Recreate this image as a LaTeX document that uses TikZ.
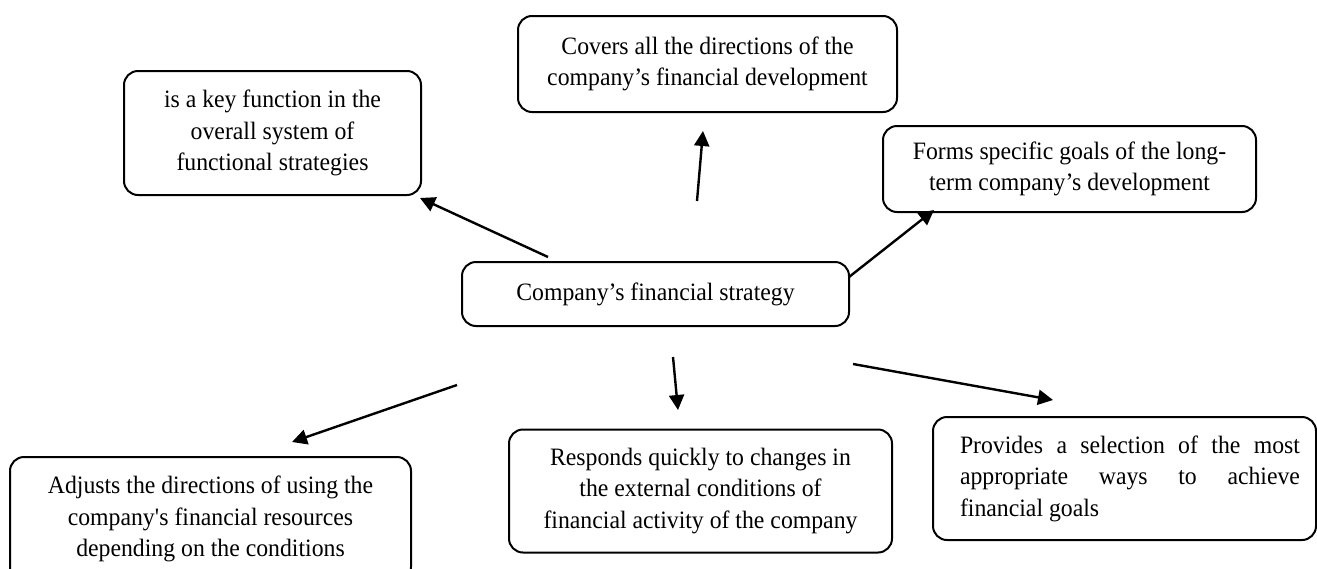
\documentclass[tikz,border=0pt]{standalone}
\usepackage{fontspec}
\setmainfont[FakeStretch=0.95]{Liberation Serif}
\usetikzlibrary{arrows.meta}

\begin{document}
\begin{tikzpicture}[x=0.5pt, y=-0.5pt,
            box/.style={draw, line width=1pt, rounded corners=7pt, align=center, inner sep=0pt,
                font=\fontsize{12.5}{15.75}\selectfont},
            arr/.style={line width=1.2pt, -{Triangle[length=7.5pt, width=7.5pt]}}]
            % Page frame
            \useasboundingbox (0,0) rectangle (1317,568);

            % Central box
            \node[box, minimum width=193.5pt, minimum height=32pt] (fin) at (655.5,294) {Company's financial strategy};

            % Boxes above
            \node[box, minimum width=148.5pt, minimum height=62pt] (key) at (272.5,133)
                {is a key function in the\\ overall system of\\ functional strategies};
            \node[box, minimum width=189.5pt, minimum height=48pt] (cover) at (707.5,64)
                {Covers all the directions of the\\ company's financial development};
            \node[box, minimum width=186.5pt, minimum height=43pt] (forms) at (1069.5,169)
                {Forms specific goals of the long-\\term company's development};

            % Boxes below
            \node[box, minimum width=200.5pt, minimum height=62pt] (adjust) at (210.5,519)
                {Adjusts the directions of using the\\ company\textquotesingle s financial resources\\ depending on the conditions};
            \node[box, minimum width=191.5pt, minimum height=61.5pt] (respond) at (700.5,491)
                {Responds quickly to changes in\\ the external conditions of\\ financial activity of the company};
            \node[box, minimum width=191.5pt, minimum height=61.5pt, text width=175.5pt, align=justify] (provide) at (1124.5,478.5)
                {\tolerance=10000 \hyphenpenalty=10000 \hspace*{5.5pt}Provides a selection of the most\linebreak
                 \hspace*{5.5pt}appropriate ways to achieve\linebreak \hspace*{5.5pt}financial goals};

            % Arrow ends (the arrows float between the boxes)
            \coordinate (keyTail) at (548,257);
            \coordinate (keyHead) at (420,198);
            \coordinate (coverTail) at (697,201);
            \coordinate (coverHead) at (703,131);
            \coordinate (formsTail) at (849,277);
            \coordinate (formsHead) at (934,210);
            \coordinate (adjustTail) at (457,385);
            \coordinate (adjustHead) at (292,442);
            \coordinate (respondTail) at (673,357);
            \coordinate (respondHead) at (678,410);
            \coordinate (provideTail) at (853,364);
            \coordinate (provideHead) at (1053,400);

            % Arrows
            \draw[arr] (keyTail) -- (keyHead);
            \draw[arr] (coverTail) -- (coverHead);
            \draw[arr] (formsTail) -- (formsHead);
            \draw[arr] (adjustTail) -- (adjustHead);
            \draw[arr] (respondTail) -- (respondHead);
            \draw[arr] (provideTail) -- (provideHead);
        \end{tikzpicture}
\end{document}
